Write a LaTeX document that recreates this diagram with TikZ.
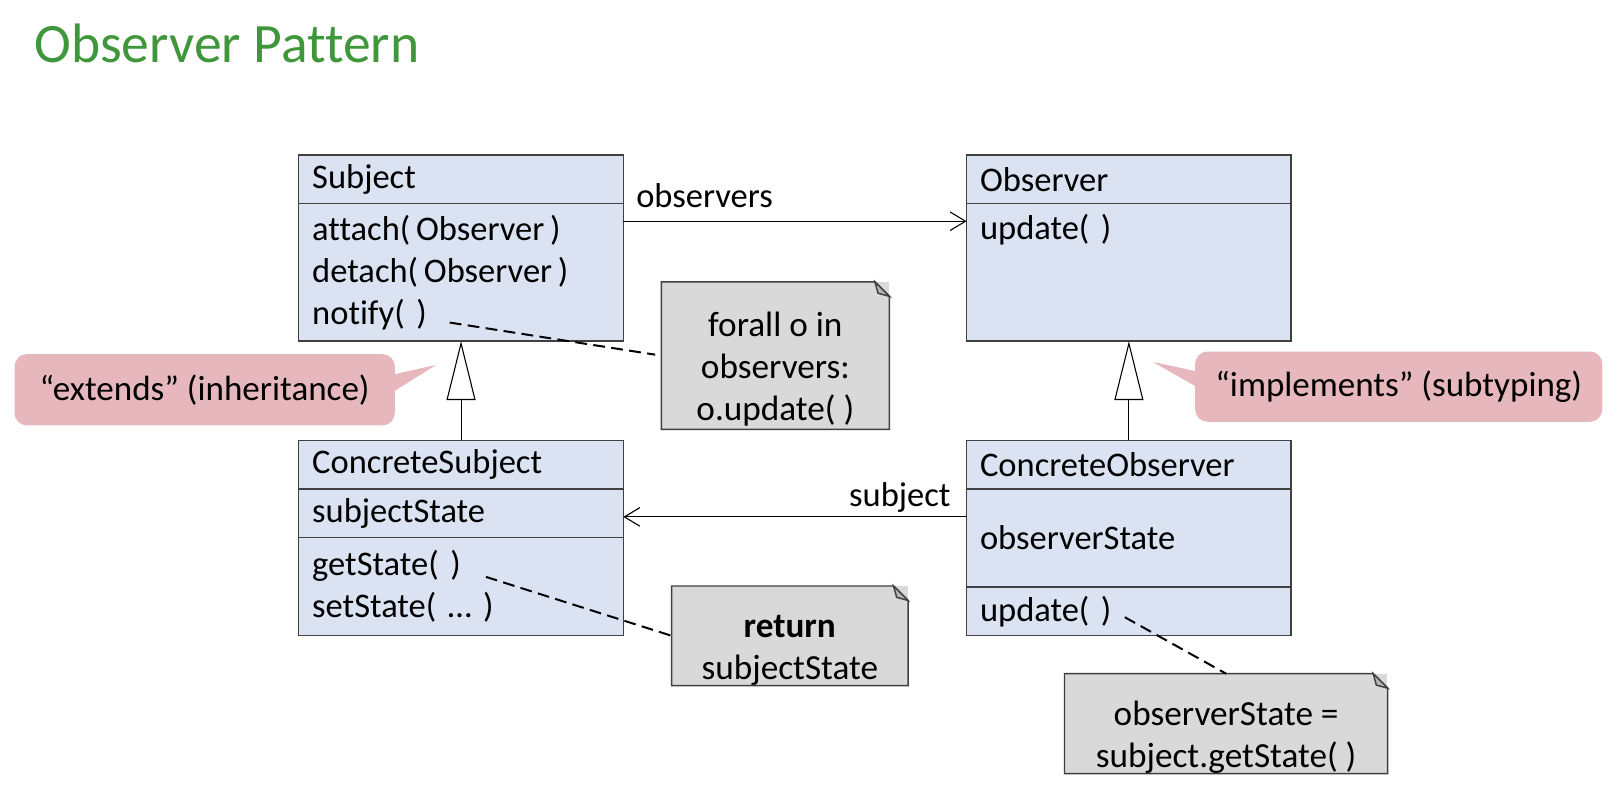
\documentclass[tikz,border=0pt]{standalone}
\usepackage{fontspec}
\setmainfont{Carlito}[Ligatures=NoCommon]
\usetikzlibrary{positioning,arrows.meta,calc}

\definecolor{clsfill}{RGB}{219,227,243}
\definecolor{clsline}{RGB}{64,64,64}
\definecolor{notefill}{RGB}{217,217,217}
\definecolor{notefold}{RGB}{180,180,180}
\definecolor{calloutfill}{RGB}{230,184,190}
\definecolor{titlegreen}{RGB}{64,150,58}

\begin{document}
\begin{tikzpicture}[x=0.02cm,y=-0.02cm,
        every node/.style={font=\fontsize{19}{23.2}\selectfont},
        clsbox/.style={draw=clsline,fill=clsfill,line width=0.8pt,outer sep=0pt,inner xsep=0.26cm,inner ysep=0.1cm,text width=5.76cm,align=left,minimum height=0.94cm},
        notebox/.style={fill=notefill,align=center,inner sep=0pt,font=\fontsize{19.4}{23}\selectfont},
        noteline/.style={draw=clsline,line width=0.8pt},
        calloutbox/.style={fill=calloutfill,rounded corners=0.24cm,align=center,font=\fontsize{19.3}{23}\selectfont},
        assoc/.style={-{Straight Barb[length=0.3cm,width=0.36cm]},line width=0.6pt},
        inherit/.style={-{Triangle[open,fill=white,length=1.14cm,width=0.56cm]},line width=0.6pt},
        anchorline/.style={dash pattern=on 6.5pt off 3.5pt,line width=1.1pt}
    ]
        
        \def\notestrut{\rule{0pt}{1.45em}}
        
        \useasboundingbox (0,0) rectangle (1568,782);
        
        \node[anchor=west,text=titlegreen,inner sep=0pt,font=\fontsize{30.6}{36}\selectfont] (title) at (33,42) {Observer Pattern};
        
        \node[clsbox,anchor=north west] (subj) at (289,150) {Subject};
        \node[clsbox,below=0pt of subj,minimum height=2.66cm] (subjops) {attach(\,Observer\,)\\detach(\,Observer\,)\\notify( )};
        
        \node[clsbox,anchor=north west] (obs) at (935,150) {Observer};
        \node[clsbox,below=0pt of obs,minimum height=2.66cm,text height=0.59cm,text depth=1.87cm] (obsops) {update( )};
        
        \node[clsbox,anchor=north west] (csubj) at (289,426) {ConcreteSubject};
        \node[clsbox,below=0pt of csubj] (csubjattr) {subjectState};
        \node[clsbox,below=0pt of csubjattr,minimum height=1.9cm] (csubjops) {getState( )\\setState( … )};
        
        \node[clsbox,anchor=north west] (cobs) at (935,426) {ConcreteObserver};
        \node[clsbox,below=0pt of cobs,minimum height=1.9cm] (cobsattr) {observerState};
        \node[clsbox,below=0pt of cobsattr] (cobsops) {update( )};
        
        \draw[assoc] ([yshift=-0.34cm]subjops.north east) -- node[pos=0,anchor=base west,xshift=0.24cm,yshift=0.27cm,inner sep=0pt] (obslabel) {observers} ([yshift=-0.34cm]obsops.north west);
        \draw[assoc] ([yshift=-0.54cm]cobsattr.north west) -- node[pos=0,anchor=base east,xshift=-0.3cm,yshift=0.2cm,inner sep=0pt] (subjlabel) {subject} ([yshift=-0.54cm]csubjattr.north east);
        
        \draw[inherit] (csubj.north) -- (subjops.south);
        \draw[inherit] (cobs.north) -- (obsops.south);
        
        \node[notebox,minimum width=4.4cm,minimum height=2.84cm] (forallnote) at (750,344) {\notestrut forall o in\\observers:\\o.update( )};
        \node[notebox,minimum width=4.56cm,minimum height=1.9cm] (returnnote) at (764,615) {\notestrut\textbf{return}\\subjectState};
        \node[notebox,minimum width=6.24cm,minimum height=1.92cm] (statenote) at (1186,700) {\notestrut observerState =\\subject.getState( )};
        
        \foreach \n in {forallnote,returnnote,statenote} {
            \draw[noteline] (\n.south west) -- (\n.north west) -- ($(\n.north east)+(-14,0)$) -- ($(\n.north east)+(0,14)$) -- (\n.south east) -- cycle;
            \filldraw[noteline,fill=notefold] ($(\n.north east)+(-14,0)$) -- ($(\n.north east)+(0,14)$) -- ($(\n.north east)+(-11,11)$) -- cycle;
        }
        
        \coordinate (notifyend) at (435,312);
        \coordinate (getstateend) at (470,558);
        \coordinate (updateend) at (1088,597);
        \draw[anchorline,shorten >=0.12cm] (notifyend) -- (forallnote.west);
        \draw[anchorline] (getstateend) -- (returnnote.west);
        \draw[anchorline] (updateend) -- (statenote.north);
        
        \node[calloutbox,minimum width=7.36cm,minimum height=1.38cm] (extendsnote) at (198,377) {“extends” (inheritance)};
        \coordinate (extendstip) at (422,353);
        \fill[calloutfill] ($(extendsnote.east)+(-10,-13)$) -- (extendstip) -- ($(extendsnote.east)+(-10,7)$) -- cycle;
        
        \node[calloutbox,minimum width=7.88cm,minimum height=1.36cm] (implnote) at (1353,374) {“implements” (subtyping)};
        \coordinate (impltip) at (1115,350);
        \fill[calloutfill] ($(implnote.west)+(10,-13)$) -- (impltip) -- ($(implnote.west)+(10,5)$) -- cycle;
        
\end{tikzpicture}
\end{document}
